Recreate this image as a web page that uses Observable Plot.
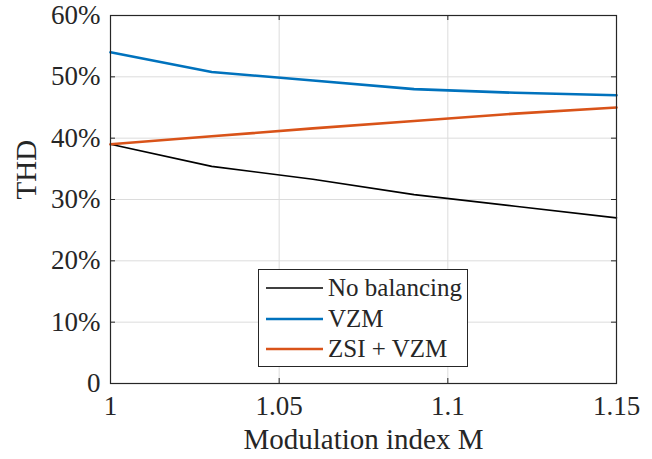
<!DOCTYPE html>
<html><head><meta charset="utf-8">
<script src="https://cdn.jsdelivr.net/npm/d3@7"></script>
<script src="https://cdn.jsdelivr.net/npm/@observablehq/plot@0.6"></script>
<style>
body{margin:0;background:#fff}
#wrap{position:relative;width:652px;height:459px;font-family:"Liberation Serif","Times New Roman",Times,"DejaVu Serif",serif}
#legend{position:absolute;left:258px;top:269px;width:208px;height:96px;border:1px solid #262626;background:#fff}
.row{position:absolute;left:0;height:30px;display:flex;align-items:center;white-space:nowrap}
.row svg{margin-left:7px;flex:none}
.row span{margin-left:5px;font-size:25px;color:#262626;line-height:30px;white-space:nowrap}
</style>
</head><body><div id="wrap"></div>
<script>
const M = [1, 1.03, 1.06, 1.09, 1.12, 1.15];
const noBalancing = [39.0, 35.4, 33.3, 30.8, 28.9, 27.0];
const vzm = [54.0, 50.8, 49.4, 48.0, 47.4, 47.0];
const zsiVzm = [39.0, 40.3, 41.6, 42.8, 44.0, 45.0];
const seriesNames = ["No balancing", "VZM", "ZSI + VZM"];
const seriesColors = ["#000000", "#0072BD", "#D95319"];
const seriesWidths = [1.6, 2.6, 2.6];
const xTicks = [1, 1.05, 1.1, 1.15];
const xTickLabels = ["1", "1.05", "1.1", "1.15"];
const yTicks = [0, 10, 20, 30, 40, 50, 60];
const yTickLabels = ["0", "10%", "20%", "30%", "40%", "50%", "60%"];
const xLabel = "Modulation index M";
const yLabel = "THD";

const seriesValues = [noBalancing, vzm, zsiVzm];
const data = [];
seriesValues.forEach((vals, s) => vals.forEach((v, i) => data.push({M: M[i], THD: v, s: seriesNames[s]})));

const W = 652, H = 459, mL = 110, mR = 36, mT = 15, mB = 76;
const ph = H - mT - mB, pw = W - mL - mR;
const axisColor = "#262626";
const serif = '"Liberation Serif","Times New Roman",Times,"DejaVu Serif",serif';

const chart = Plot.plot({
  width: W, height: H, marginLeft: mL, marginRight: mR, marginTop: mT, marginBottom: mB,
  style: {fontFamily: serif, fontSize: "27px", color: axisColor, background: "#fff"},
  x: {domain: [1, 1.15]},
  y: {domain: [0, 60]},
  marks: [
    Plot.gridX(xTicks, {stroke: "#dcdcdc", strokeOpacity: 1}),
    Plot.gridY(yTicks, {stroke: "#dcdcdc", strokeOpacity: 1}),
    Plot.axisX(xTicks, {tickSize: 0, tickPadding: 12, tickFormat: (d, i) => xTickLabels[i], label: null, fontSize: 27}),
    Plot.axisY(yTicks, {tickSize: 0, tickPadding: 10, tickFormat: (d, i) => yTickLabels[i], label: null, fontSize: 27}),
    Plot.tickX(xTicks, {x: d => d, insetTop: ph - 5, stroke: axisColor}),
    Plot.tickX(xTicks, {x: d => d, insetBottom: ph - 5, stroke: axisColor}),
    Plot.tickY(yTicks, {y: d => d, insetRight: pw - 5, stroke: axisColor}),
    Plot.tickY(yTicks, {y: d => d, insetLeft: pw - 5, stroke: axisColor}),
    ...seriesNames.map((name, s) => Plot.lineY(data.filter(d => d.s === name), {x: "M", y: "THD", stroke: seriesColors[s], strokeWidth: seriesWidths[s]})),
    Plot.frame({stroke: axisColor, strokeWidth: 1.2}),
    Plot.text([xLabel], {text: d => d, frameAnchor: "bottom", dy: 65, fontSize: 29, fill: axisColor}),
    Plot.text([yLabel], {text: d => d, frameAnchor: "left", dx: -84, rotate: -90, fontSize: 29, fill: axisColor})
  ]
});
chart.style.fontFamily = serif;
const wrap = document.getElementById("wrap");
wrap.appendChild(chart);

const legend = document.createElement("div");
legend.id = "legend";
seriesNames.forEach((name, s) => {
  const row = document.createElement("div");
  row.className = "row";
  row.style.top = (3 + s * 30.5) + "px";
  row.innerHTML = `<svg width="57" height="6"><line x1="0" x2="57" y1="3" y2="3" stroke="${seriesColors[s]}" stroke-width="${seriesWidths[s]}"/></svg><span>${name}</span>`;
  legend.appendChild(row);
});
wrap.appendChild(legend);
</script>
</body></html>
